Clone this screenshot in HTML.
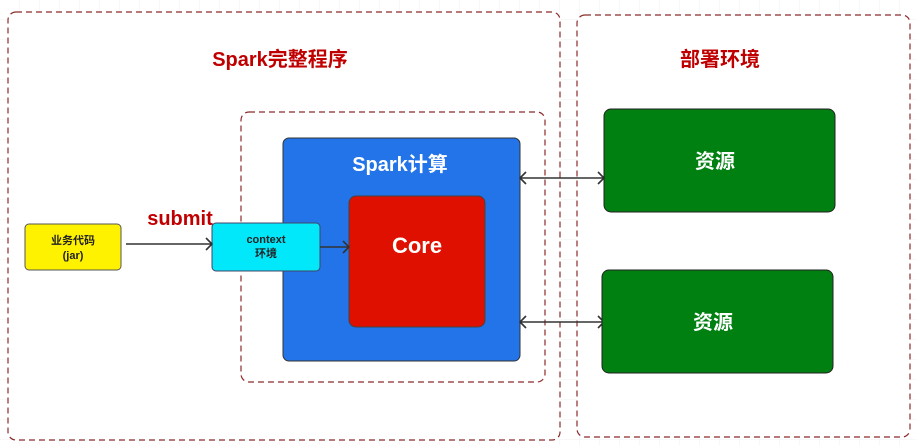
<!DOCTYPE html>
<html><head><meta charset="utf-8"><style>
html,body{margin:0;padding:0;background:#fff;}
svg{display:block;}
text{font-family:"Liberation Sans","Noto Sans CJK SC",sans-serif;font-weight:bold;}
</style></head><body>
<svg width="916" height="445" viewBox="0 0 916 445" xmlns="http://www.w3.org/2000/svg">
<defs>
<pattern id="g" width="20" height="20" patternUnits="userSpaceOnUse"><path d="M20 0V20H0" fill="none" stroke="#f0f0f0" stroke-width="1"/></pattern>
</defs>
<rect width="916" height="445" fill="url(#g)"/>
<rect x="8" y="12" width="552" height="428" rx="8" fill="#fff" stroke="#8b2a2a" stroke-width="1.2" stroke-dasharray="6,4"/>
<rect x="577" y="15" width="333" height="422" rx="8" fill="#fff" stroke="#8b2a2a" stroke-width="1.2" stroke-dasharray="6,4"/>
<rect x="241" y="112" width="304" height="270" rx="8" fill="none" stroke="#8b2a2a" stroke-width="1.2" stroke-dasharray="6,4"/>
<text x="280" y="66" text-anchor="middle" font-size="20" fill="#c00000">Spark完整程序</text>
<text x="720" y="66" text-anchor="middle" font-size="20" fill="#c00000">部署环境</text>
<rect x="283" y="138" width="237" height="223" rx="6" fill="#2274e8" stroke="#333" stroke-width="1"/>
<text x="400" y="171" text-anchor="middle" font-size="20" fill="#fff">Spark计算</text>
<rect x="349" y="196" width="136" height="131" rx="7" fill="#e01000" stroke="#444" stroke-width="1"/>
<text x="417" y="253" text-anchor="middle" font-size="22" fill="#fff">Core</text>
<rect x="25" y="224" width="96" height="46" rx="4" fill="#fff200" stroke="#555" stroke-width="1"/>
<text x="73" y="244" text-anchor="middle" font-size="11" fill="#222">业务代码</text>
<text x="73" y="259" text-anchor="middle" font-size="11" fill="#222">(jar)</text>
<rect x="212" y="223" width="108" height="48" rx="4" fill="#00e8fa" stroke="#446" stroke-width="1"/>
<text x="266" y="243" text-anchor="middle" font-size="11" fill="#222">context</text>
<text x="266" y="257" text-anchor="middle" font-size="11" fill="#222">环境</text>
<text x="180" y="225" text-anchor="middle" font-size="20" fill="#c00000">submit</text>
<g stroke="#333" stroke-width="1.6" fill="none">
<path d="M126 244H212M206 238L212 244L206 250"/>
<path d="M320 247H349M343 241L349 247L343 253"/>
<path d="M520 178H604M526 172L520 178L526 184M598 172L604 178L598 184"/>
<path d="M520 322H604M526 316L520 322L526 328M598 316L604 322L598 328"/>
</g>
<rect x="604" y="109" width="231" height="103" rx="7" fill="#008010" stroke="#222" stroke-width="1"/>
<text x="715" y="168" text-anchor="middle" font-size="20" fill="#fff">资源</text>
<rect x="602" y="270" width="231" height="103" rx="7" fill="#008010" stroke="#222" stroke-width="1"/>
<text x="713" y="329" text-anchor="middle" font-size="20" fill="#fff">资源</text>
</svg>
</body></html>
